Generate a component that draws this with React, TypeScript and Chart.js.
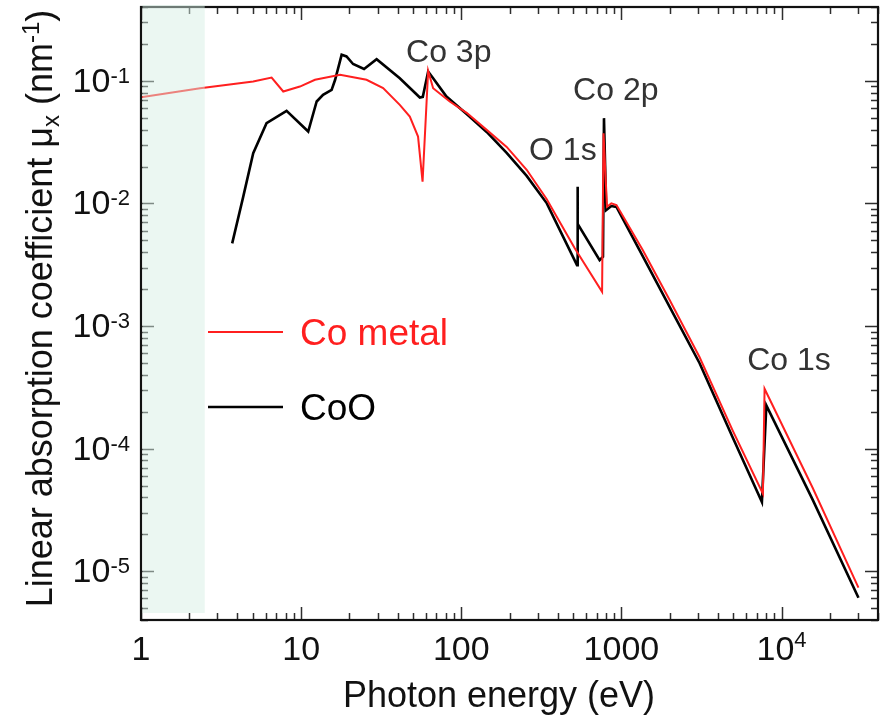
import { useEffect, useRef } from 'react';
import { Chart, registerables } from 'chart.js';

Chart.register(...registerables);

// Photon energy (eV) and linear absorption coefficient (nm^-1), Co metal
const coMetalEnergy = [
  1, 2.34, 5.02, 6.54, 7.73, 9.82, 12.2, 17.5, 25.6, 32.5,
  41.3, 47.7, 53.7, 57.3, 62.1, 66.7, 84.7, 108, 144, 192,
  256, 341, 510, 757, 773, 796, 813, 865, 931, 1358,
  2000, 3077, 4945, 7645, 7830, 15600, 30200,
];
const coMetalMu = [
  0.0733, 0.0871, 0.0987, 0.1064, 0.0818, 0.0898, 0.1019, 0.112, 0.102, 0.0871,
  0.0637, 0.0511, 0.0351, 0.01503, 0.1207, 0.0871, 0.0678, 0.0548, 0.0398, 0.0289,
  0.0188, 0.01086, 0.00433, 0.0019, 0.0374, 0.0165, 0.0094, 0.01002, 0.0097, 0.00416,
  0.00163, 5.56e-4, 1.41e-4, 4.28e-5, 3.08e-4, 4.82e-5, 7.34e-6,
];

// Photon energy (eV) and linear absorption coefficient (nm^-1), CoO
const cooEnergy = [
  3.71, 4.35, 5.02, 6.08, 8.11, 11.07, 12.5, 13.7, 15.5, 16.3,
  17.9, 19.2, 21.1, 24.7, 29.6, 41.3, 55.1, 57.5, 62.1, 66.7,
  80.8, 108, 144, 192, 256, 342, 528, 532, 534, 731,
  767, 778, 803, 865, 931, 1358, 2000, 3077, 4945, 7536,
  8030, 15600, 30200,
];
const cooMu = [
  0.00472, 0.01135, 0.02564, 0.0451, 0.0569, 0.0386, 0.0678, 0.0769, 0.0844, 0.102,
  0.163, 0.158, 0.137, 0.125, 0.15, 0.105, 0.0731, 0.074, 0.119, 0.105,
  0.0744, 0.0537, 0.0383, 0.0258, 0.01676, 0.01002, 0.00314, 0.01368, 0.0068, 0.00345,
  0.00367, 0.0496, 0.00883, 0.00952, 0.00935, 0.00372, 0.00143, 4.97e-4, 1.24e-4, 3.66e-5,
  2.25e-4, 3.85e-5, 6.08e-6,
];

// Low-energy window that is tinted
const shadedBand = [1, 2.5];

// Axis ranges
const xRange = [1, 40000];
const yRange = [4e-6, 0.4];

// Axis tick labels
const xTickValues = [1, 10, 100, 1000, 10000];
const xTickBase = ['1', '10', '100', '1000', '10'];
const xTickExp = ['', '', '', '', '4'];
const yTickExponents = [-1, -2, -3, -4, -5];

// Series names
const seriesNames = ['Co metal', 'CoO'];

const RED = '#ff1f1f';
const BLACK = '#000000';
const FONT_FAMILY = '"Liberation Sans", Arial, Helvetica, sans-serif';
const font = (size: number) => `${size}px ${FONT_FAMILY}`;

type Part = { text: string; size: number; dy?: number };

function drawRich(
  ctx: CanvasRenderingContext2D,
  parts: Part[],
  x: number,
  y: number,
  align: 'left' | 'center' | 'right'
) {
  let total = 0;
  for (const p of parts) {
    ctx.font = font(p.size);
    total += ctx.measureText(p.text).width;
  }
  let cx = align === 'right' ? x - total : align === 'center' ? x - total / 2 : x;
  ctx.textAlign = 'left';
  ctx.textBaseline = 'alphabetic';
  for (const p of parts) {
    ctx.font = font(p.size);
    ctx.fillText(p.text, cx, y + (p.dy || 0));
    cx += ctx.measureText(p.text).width;
  }
}

// Absorption-edge labels, anchored in data space (left edge, baseline)
const edgeAnnotations = [
  { text: 'Co 3p', energy: 45.2, mu: 0.143 },
  { text: 'O 1s', energy: 265, mu: 0.0227 },
  { text: 'Co 2p', energy: 499, mu: 0.07 },
  { text: 'Co 1s', energy: 6100, mu: 4.4e-4 },
];

function logTicks(min: number, max: number) {
  const out: { v: number; major: boolean }[] = [];
  const lo = Math.floor(Math.log10(min));
  const hi = Math.ceil(Math.log10(max));
  for (let e = lo; e <= hi; e++) {
    for (let k = 1; k <= 9; k++) {
      const v = k * Math.pow(10, e);
      if (v >= min * 0.999 && v <= max * 1.001) out.push({ v, major: k === 1 });
    }
  }
  return out;
}

const decorations = {
  id: 'decorations',
  afterDraw(chart: any) {
    const { ctx, chartArea: a, scales } = chart;
    const xs = scales.x;
    const ys = scales.y;
    ctx.save();

    // inward tick marks on all four sides
    ctx.strokeStyle = '#2e2e2e';
    ctx.lineWidth = 1.5;
    ctx.beginPath();
    for (const t of logTicks(yRange[0], yRange[1])) {
      const py = Math.round(ys.getPixelForValue(t.v)) + 0.5;
      const len = t.major ? 13 : 7;
      ctx.moveTo(a.left, py);
      ctx.lineTo(a.left + len, py);
      ctx.moveTo(a.right, py);
      ctx.lineTo(a.right - len, py);
    }
    for (const t of logTicks(xRange[0], xRange[1])) {
      const px = Math.round(xs.getPixelForValue(t.v)) + 0.5;
      const len = t.major ? 13 : 7;
      ctx.moveTo(px, a.bottom);
      ctx.lineTo(px, a.bottom - len);
      ctx.moveTo(px, a.top);
      ctx.lineTo(px, a.top + len);
    }
    ctx.stroke();

    // frame
    ctx.strokeStyle = '#111111';
    ctx.lineWidth = 2.2;
    ctx.strokeRect(a.left, a.top, a.right - a.left, a.bottom - a.top);

    // tinted low-energy window, laid over lines and ticks
    const x0 = xs.getPixelForValue(shadedBand[0]) + 1.5;
    const x1 = xs.getPixelForValue(shadedBand[1]);
    ctx.fillStyle = 'rgba(214,238,227,0.48)';
    ctx.fillRect(x0, a.top - 2, x1 - x0, a.bottom - 7 - (a.top - 2));

    // y tick labels
    ctx.fillStyle = '#111111';
    for (const e of yTickExponents) {
      const py = ys.getPixelForValue(Math.pow(10, e));
      drawRich(
        ctx,
        [
          { text: '10', size: 34 },
          { text: String(e), size: 22, dy: -9 },
        ],
        a.left - 11,
        py + 11,
        'right'
      );
    }

    // x tick labels
    xTickValues.forEach((v, i) => {
      const px = xs.getPixelForValue(v);
      const parts: Part[] = [{ text: xTickBase[i], size: 34 }];
      if (xTickExp[i]) parts.push({ text: xTickExp[i], size: 22, dy: -13 });
      drawRich(ctx, parts, px, a.bottom + 40, 'center');
    });

    // axis titles
    drawRich(ctx, [{ text: 'Photon energy (eV)', size: 36 }], a.left + 358, a.bottom + 87, 'center');
    ctx.save();
    ctx.translate(a.left - 89, (a.top + a.bottom) / 2 - 5);
    ctx.rotate(-Math.PI / 2);
    drawRich(
      ctx,
      [
        { text: 'Linear absorption coefficient \u03bc', size: 36 },
        { text: 'x', size: 24, dy: 7 },
        { text: ' (nm', size: 36 },
        { text: '-1', size: 24, dy: -13 },
        { text: ')', size: 36 },
      ],
      0,
      0,
      'center'
    );
    ctx.restore();

    // edge labels
    ctx.fillStyle = '#333333';
    for (const an of edgeAnnotations) {
      drawRich(
        ctx,
        [{ text: an.text, size: 32 }],
        xs.getPixelForValue(an.energy),
        ys.getPixelForValue(an.mu),
        'left'
      );
    }

    // legend
    const legendColors = [RED, BLACK];
    const legendRows = [a.top + 325, a.top + 400];
    seriesNames.forEach((name, i) => {
      const ly = legendRows[i];
      ctx.strokeStyle = legendColors[i];
      ctx.lineWidth = i === 0 ? 2 : 2.5;
      ctx.beginPath();
      ctx.moveTo(a.left + 67, ly);
      ctx.lineTo(a.left + 142, ly);
      ctx.stroke();
      ctx.fillStyle = i === 0 ? RED : '#000000';
      drawRich(ctx, [{ text: name, size: 37 }], a.left + 159, ly + 13, 'left');
    });

    ctx.restore();
  },
};

export default function App() {
  const canvasRef = useRef<HTMLCanvasElement | null>(null);

  useEffect(() => {
    const canvas = canvasRef.current;
    if (!canvas) return;
    const toPoints = (xs: number[], ys: number[]) => xs.map((x, i) => ({ x, y: ys[i] }));

    const chart = new Chart(canvas, {
      type: 'line',
      data: {
        datasets: [
          {
            label: seriesNames[0],
            data: toPoints(coMetalEnergy, coMetalMu),
            borderColor: RED,
            borderWidth: 2,
            pointRadius: 0,
            tension: 0,
            fill: false,
          },
          {
            label: seriesNames[1],
            data: toPoints(cooEnergy, cooMu),
            borderColor: BLACK,
            borderWidth: 2.6,
            pointRadius: 0,
            tension: 0,
            fill: false,
          },
        ],
      },
      options: {
        responsive: false,
        animation: false,
        devicePixelRatio: 1,
        layout: { padding: { left: 141, right: 7, top: 7, bottom: 95 } },
        plugins: {
          legend: { display: false },
          tooltip: { enabled: false },
        },
        scales: {
          x: {
            type: 'logarithmic',
            min: xRange[0],
            max: xRange[1],
            display: false,
          },
          y: {
            type: 'logarithmic',
            min: yRange[0],
            max: yRange[1],
            display: false,
          },
        },
      },
      plugins: [decorations],
    });

    return () => chart.destroy();
  }, []);

  return (
    <div style={{ position: 'absolute', left: 0, top: 0, width: 885, height: 715, background: '#ffffff' }}>
      <canvas ref={canvasRef} width={885} height={715} />
    </div>
  );
}
